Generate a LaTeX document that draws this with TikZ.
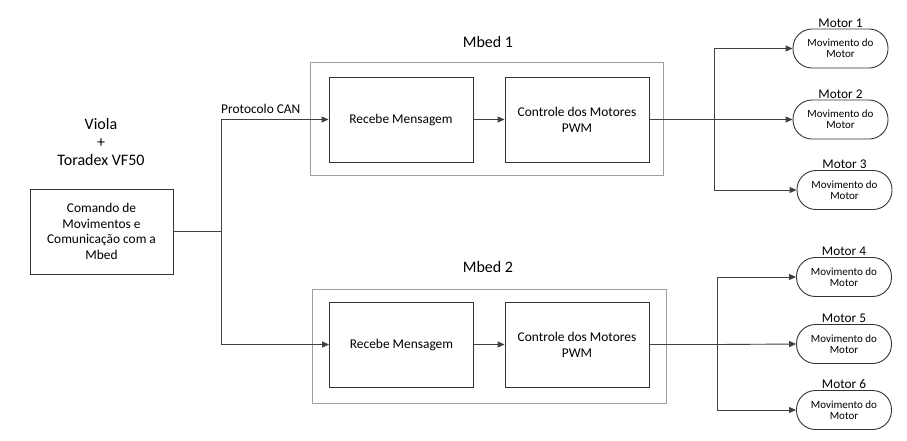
\documentclass[tikz,border=0pt]{standalone}
\usepackage{fontspec}
\setmainfont{Carlito}
\usetikzlibrary{arrows.meta}
\begin{document}
\begin{tikzpicture}[x=1pt,y=-1pt,
  line/.style={draw=black!75,line width=0.9pt},
  arr/.style={line,-{Triangle[length=7pt,width=6pt]}},
  blk/.style={draw=black!80,line width=0.9pt,minimum width=144pt,minimum height=85pt,align=center,font=\fontsize{13.4}{15.7}\selectfont},
  outer/.style={draw=black!38,line width=0.9pt},
  motor/.style={draw=black!80,line width=0.9pt,rounded corners=19pt,minimum width=95pt,minimum height=39pt,align=center,font=\fontsize{11}{11}\selectfont,inner sep=1pt},
  mlab/.style={font=\fontsize{13.3}{15}\selectfont,inner sep=1pt},
  title/.style={font=\fontsize{16}{19}\selectfont,align=center}
]
\useasboundingbox (0,0) rectangle (907,440);
% left side
\node[title] (viola) at (101,142) {Viola\\[-1pt]+\\[-1pt]Toradex VF50};
\node[blk,minimum width=143pt] (cmd) at (101.5,231.5) {Comando de\\Movimentos e\\Comunicação com a\\Mbed};
\coordinate (j) at (221,231.5);
% Mbed 1
\node[outer,minimum width=353pt,minimum height=113pt] (mb1) at (486.5,118.5) {};
\node[title] (mb1l) at (488,42) {Mbed 1};
\node[blk] (rec1) at (401,119.5) {Recebe Mensagem};
\node[blk] (ctl1) at (577,119.5) {Controle dos Motores\\PWM};
% Mbed 2
\node[outer,minimum width=354pt,minimum height=114pt] (mb2) at (489,346) {};
\node[title] (mb2l) at (488,267) {Mbed 2};
\node[blk] (rec2) at (401.5,344.5) {Recebe Mensagem};
\node[blk] (ctl2) at (577,344.5) {Controle dos Motores\\PWM};
% motors
\node[motor] (m1) at (840.5,48.5) {Movimento do\\Motor};
\node[motor] (m2) at (840.5,119.5) {Movimento do\\Motor};
\node[motor] (m3) at (844.5,190) {Movimento do\\Motor};
\node[motor] (m4) at (844,277) {Movimento do\\Motor};
\node[motor] (m5) at (844,344) {Movimento do\\Motor};
\node[motor] (m6) at (844,410) {Movimento do\\Motor};
\foreach \m/\t in {m1/Motor 1,m2/Motor 2,m3/Motor 3,m4/Motor 4,m5/Motor 5,m6/Motor 6}
  \node[mlab,anchor=south] (\m l) at (\m.north) {\t};
% connectors
\draw[line] (cmd.east) -- (j);
\draw[arr] (j) |- (rec1.west);
\node[anchor=base west,inner sep=0pt,font=\fontsize{13.4}{15}\selectfont] (can) at (221,113.5) {Protocolo CAN};
\draw[arr] (j) |- (rec2.west);
\draw[arr] (rec1) -- (ctl1);
\draw[arr] (rec2) -- (ctl2);
\coordinate (s1) at (714,119.5);
\coordinate (s2) at (717,344.5);
\draw[line] (ctl1.east) -- (s1);
\draw[line] (ctl2.east) -- (s2);
\draw[arr] (s1) |- (m1.west);
\draw[arr] (s1) -- (m2.west);
\draw[arr] (s1) |- (m3.west);
\draw[arr] (s2) |- (m4.west);
\draw[arr] (s2) -- (m5.west);
\draw[arr] (s2) |- (m6.west);
\end{tikzpicture}
\end{document}
